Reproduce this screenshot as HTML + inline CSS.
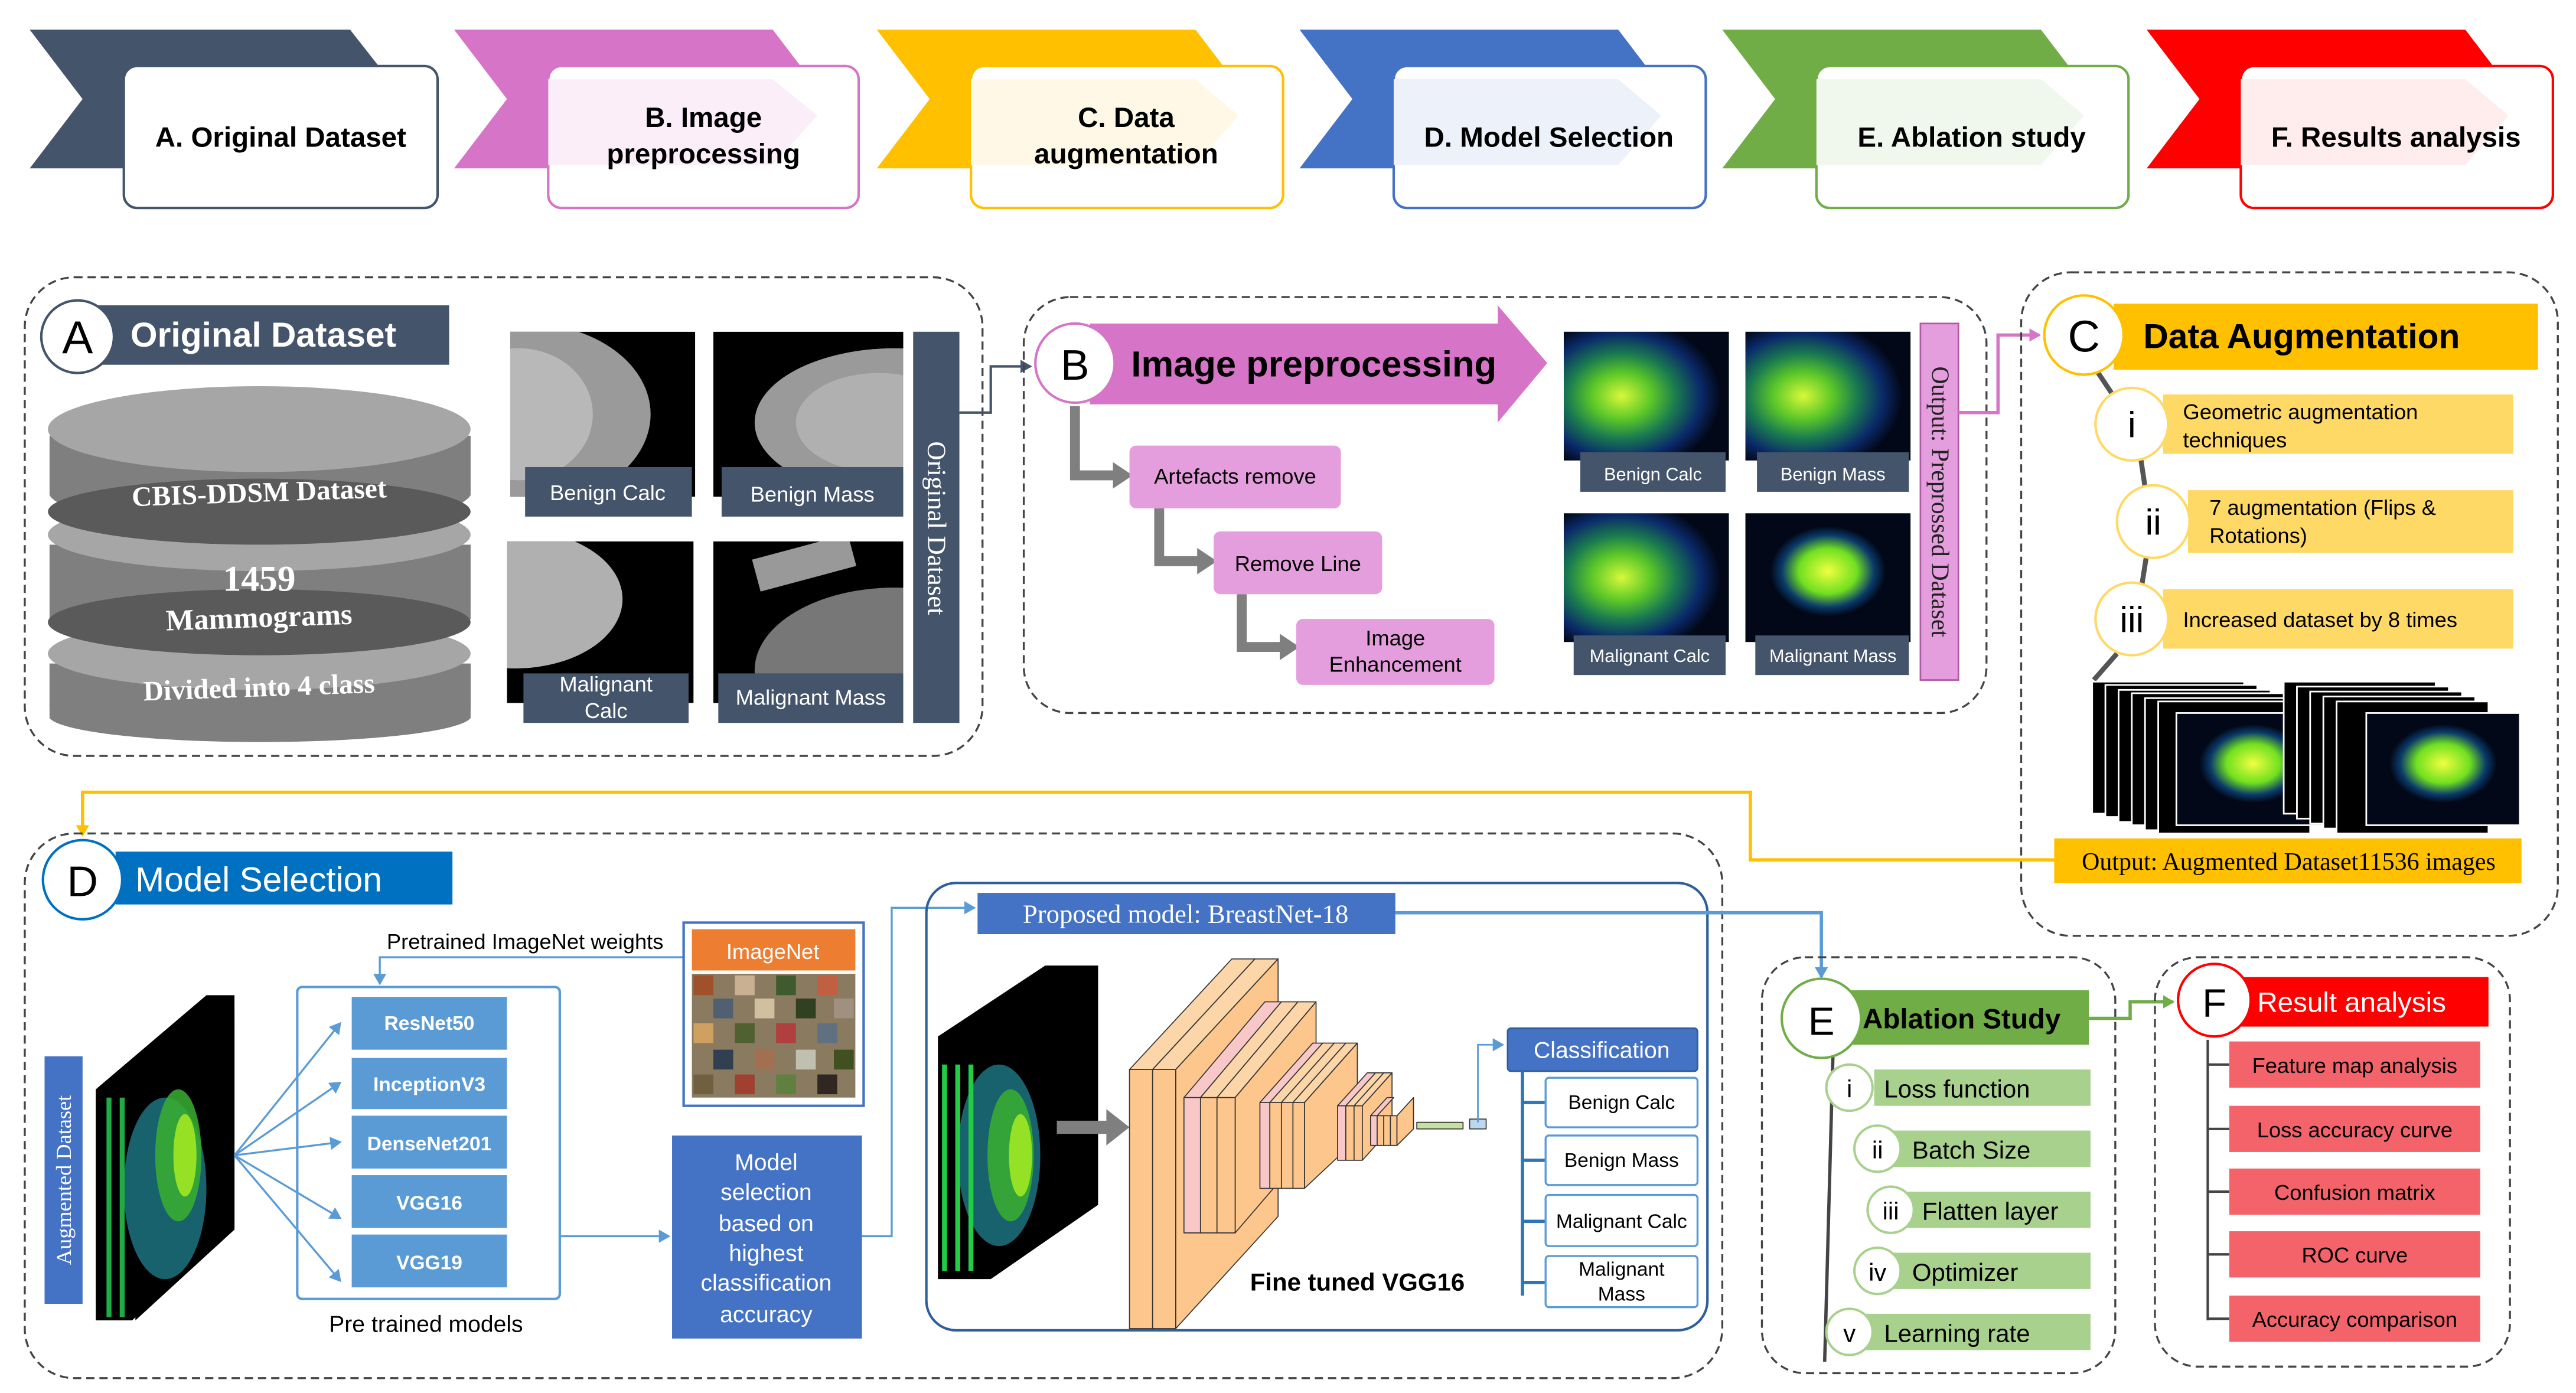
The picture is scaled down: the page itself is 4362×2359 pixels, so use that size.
<!DOCTYPE html>
<html><head><meta charset="utf-8"><style>
html,body{margin:0;padding:0;background:#fff}
svg{display:block}
text{font-family:"Liberation Sans",sans-serif}
.serif{font-family:"Liberation Serif",serif}
</style></head><body>
<svg width="4362" height="2359" viewBox="0 0 1560 844" preserveAspectRatio="none" xmlns="http://www.w3.org/2000/svg">
<defs>
<radialGradient id="heat" cx="0.35" cy="0.5" r="0.6">
<stop offset="0" stop-color="#d8f83a"/><stop offset="0.3" stop-color="#5cc828"/><stop offset="0.55" stop-color="#1a7a50"/><stop offset="0.8" stop-color="#0a2a6a"/><stop offset="1" stop-color="#020818"/>
</radialGradient>
<radialGradient id="heat2" cx="0.5" cy="0.45" r="0.35">
<stop offset="0" stop-color="#f0ff40"/><stop offset="0.5" stop-color="#70e020"/><stop offset="0.8" stop-color="#0a3a6a"/><stop offset="1" stop-color="#020818"/>
</radialGradient>
<radialGradient id="mam" cx="0.2" cy="0.5" r="0.7">
<stop offset="0" stop-color="#d8d8d8"/><stop offset="0.5" stop-color="#9a9a9a"/><stop offset="0.7" stop-color="#222"/><stop offset="1" stop-color="#000"/>
</radialGradient>
<marker id="ab" markerWidth="8" markerHeight="8" refX="6" refY="4" orient="auto" markerUnits="userSpaceOnUse"><path d="M0,0 L7,4 L0,8z" fill="#5b9bd5"/></marker>
<marker id="ap" markerWidth="8" markerHeight="8" refX="6" refY="4" orient="auto" markerUnits="userSpaceOnUse"><path d="M0,0 L7,4 L0,8z" fill="#d674c8"/></marker>
<marker id="ay" markerWidth="8" markerHeight="8" refX="6" refY="4" orient="auto" markerUnits="userSpaceOnUse"><path d="M0,0 L7,4 L0,8z" fill="#ffc000"/></marker>
<marker id="ag" markerWidth="8" markerHeight="8" refX="6" refY="4" orient="auto" markerUnits="userSpaceOnUse"><path d="M0,0 L7,4 L0,8z" fill="#70ad47"/></marker>
<marker id="ad" markerWidth="8" markerHeight="8" refX="6" refY="4" orient="auto" markerUnits="userSpaceOnUse"><path d="M0,0 L7,4 L0,8z" fill="#44546a"/></marker>
</defs>

<!-- TOP BANNER -->
<g>
<polygon points="18,18 212,18 245,60 212,102 18,102 50,60" fill="#44546a"/>
<rect x="75" y="40" width="190" height="86" rx="8" fill="#fff" stroke="#44546a" stroke-width="1.5"/>
<text x="170" y="89" font-size="17" font-weight="bold" text-anchor="middle">A. Original Dataset</text>

<polygon points="275,18 468,18 500,60 468,102 275,102 307,60" fill="#d674c8"/>
<rect x="332" y="40" width="188" height="86" rx="8" fill="#fff" stroke="#d674c8" stroke-width="1.5"/>
<polygon points="332,48 468,48 495,70 468,100 332,100" fill="#fbeef9"/>
<text x="426" y="77" font-size="17" font-weight="bold" text-anchor="middle">B. Image</text>
<text x="426" y="99" font-size="17" font-weight="bold" text-anchor="middle">preprocessing</text>

<polygon points="531,18 724,18 756,60 724,102 531,102 563,60" fill="#ffc000"/>
<rect x="588" y="40" width="189" height="86" rx="8" fill="#fff" stroke="#ffc000" stroke-width="1.5"/>
<polygon points="588,48 724,48 750,70 724,100 588,100" fill="#fff8e6"/>
<text x="682" y="77" font-size="17" font-weight="bold" text-anchor="middle">C. Data</text>
<text x="682" y="99" font-size="17" font-weight="bold" text-anchor="middle">augmentation</text>

<polygon points="787,18 980,18 1012,60 980,102 787,102 819,60" fill="#4472c4"/>
<rect x="844" y="40" width="189" height="86" rx="8" fill="#fff" stroke="#4472c4" stroke-width="1.5"/>
<polygon points="844,48 980,48 1006,70 980,100 844,100" fill="#edf1f9"/>
<text x="938" y="89" font-size="17" font-weight="bold" text-anchor="middle">D. Model Selection</text>

<polygon points="1043,18 1236,18 1268,60 1236,102 1043,102 1075,60" fill="#70ad47"/>
<rect x="1100" y="40" width="189" height="86" rx="8" fill="#fff" stroke="#70ad47" stroke-width="1.5"/>
<polygon points="1100,48 1236,48 1262,70 1236,100 1100,100" fill="#f0f7ec"/>
<text x="1194" y="89" font-size="17" font-weight="bold" text-anchor="middle">E. Ablation study</text>

<polygon points="1300,18 1493,18 1525,60 1493,102 1300,102 1332,60" fill="#ff0000"/>
<rect x="1357" y="40" width="189" height="86" rx="8" fill="#fff" stroke="#ff0000" stroke-width="1.5"/>
<polygon points="1357,48 1493,48 1519,70 1493,100 1357,100" fill="#ffecec"/>
<text x="1451" y="89" font-size="17" font-weight="bold" text-anchor="middle">F. Results analysis</text>
</g>

<!-- SECTION A -->
<rect x="15" y="168" width="580" height="290" rx="30" fill="none" stroke="#444" stroke-dasharray="5,3" stroke-width="1.2"/>
<rect x="55" y="185" width="217" height="36" fill="#44546a"/>
<circle cx="47" cy="204" r="22" fill="#fff" stroke="#44546a" stroke-width="1.5"/>
<text x="47" y="214" font-size="28" text-anchor="middle">A</text>
<text x="79" y="210" font-size="21" font-weight="bold" fill="#fff">Original Dataset</text>
<!-- cylinder -->
<g>
<path d="M30,402 L30,435 A128,16 0 0 0 285,435 L285,402z" fill="#7f7f7f"/>
<ellipse cx="157" cy="396" rx="128" ry="22" fill="#a6a6a6"/>
<path d="M30,330 L30,375 A128,22 0 0 0 285,375 L285,330z" fill="#7f7f7f"/>
<ellipse cx="157" cy="377" rx="128" ry="20" fill="#5a5a5a"/>
<ellipse cx="157" cy="324" rx="128" ry="22" fill="#a6a6a6"/>
<path d="M30,264 L30,300 A128,22 0 0 0 285,300 L285,264z" fill="#7f7f7f"/>
<ellipse cx="157" cy="310" rx="128" ry="20" fill="#5a5a5a"/>
<ellipse cx="157" cy="260" rx="128" ry="26" fill="#a6a6a6"/>
<path d="M30,402 L30,430 A128,18 0 0 0 285,430 L285,402 A128,20 0 0 1 30,402z" fill="#7f7f7f"/>
<text x="157" y="304" class="serif" font-size="17" font-weight="bold" fill="#fff" text-anchor="middle" transform="rotate(-2 157 300)">CBIS-DDSM Dataset</text>
<text x="157" y="358" class="serif" font-size="22" font-weight="bold" fill="#fff" text-anchor="middle">1459</text>
<text x="157" y="380" class="serif" font-size="18" font-weight="bold" fill="#fff" text-anchor="middle" transform="rotate(-2 157 378)">Mammograms</text>
<text x="157" y="422" class="serif" font-size="17" font-weight="bold" fill="#fff" text-anchor="middle" transform="rotate(-2 157 420)">Divided into 4 class</text>
</g>
<!-- mammograms (clipped) -->
<svg x="309" y="201" width="112" height="100"><rect width="112" height="100" fill="#000"/><ellipse cx="10" cy="50" rx="75" ry="55" fill="#9a9a9a"/><ellipse cx="5" cy="50" rx="45" ry="40" fill="#b8b8b8"/></svg>
<svg x="432" y="201" width="115" height="100"><rect width="115" height="100" fill="#000"/><ellipse cx="110" cy="55" rx="85" ry="45" fill="#9a9a9a"/><ellipse cx="100" cy="55" rx="50" ry="30" fill="#b0b0b0"/></svg>
<svg x="307" y="328" width="113" height="98"><rect width="113" height="98" fill="#000"/><ellipse cx="5" cy="35" rx="65" ry="42" fill="#b0b0b0"/></svg>
<svg x="432" y="328" width="115" height="98"><rect width="115" height="98" fill="#000"/><ellipse cx="110" cy="78" rx="85" ry="50" fill="#777"/><rect x="25" y="3" width="60" height="20" fill="#999" transform="rotate(-15 55 13)"/></svg>
<rect x="318" y="283" width="101" height="30" fill="#44546a"/><text x="368" y="303" font-size="13" fill="#fff" text-anchor="middle">Benign Calc</text>
<rect x="437" y="283" width="110" height="30" fill="#44546a"/><text x="492" y="304" font-size="13" fill="#fff" text-anchor="middle">Benign Mass</text>
<rect x="317" y="408" width="100" height="30" fill="#44546a"/><text x="367" y="419" font-size="13" fill="#fff" text-anchor="middle">Malignant</text><text x="367" y="435" font-size="13" fill="#fff" text-anchor="middle">Calc</text>
<rect x="435" y="408" width="112" height="30" fill="#44546a"/><text x="491" y="427" font-size="13" fill="#fff" text-anchor="middle">Malignant Mass</text>
<rect x="553" y="201" width="28" height="237" fill="#44546a"/>
<text x="0" y="0" class="serif" font-size="16" fill="#fff" text-anchor="middle" transform="translate(562 320) rotate(90)">Original Dataset</text>
<polyline points="581,250 600,250 600,222 624,222" fill="none" stroke="#44546a" stroke-width="1.5" marker-end="url(#ad)"/>

<!-- SECTION B -->
<rect x="620" y="180" width="583" height="252" rx="28" fill="none" stroke="#444" stroke-dasharray="5,3" stroke-width="1.2"/>
<polygon points="660,196 907,196 907,185 937,220 907,256 907,245 660,245" fill="#d674c8"/>
<circle cx="651" cy="220" r="24" fill="#fff" stroke="#d674c8" stroke-width="1.5"/>
<text x="651" y="230" font-size="26" text-anchor="middle">B</text>
<text x="685" y="228" font-size="22" font-weight="bold">Image preprocessing</text>
<g fill="none" stroke="#7f7f7f" stroke-width="6">
<polyline points="651,246 651,288 676,288"/>
<polyline points="702,308 702,340 727,340"/>
<polyline points="752,360 752,392 777,392"/>
</g>
<g fill="#7f7f7f"><polygon points="674,280 686,288 674,296"/><polygon points="725,332 737,340 725,348"/><polygon points="775,384 787,392 775,400"/></g>
<rect x="684" y="270" width="128" height="38" rx="4" fill="#e59edd"/><text x="748" y="293" font-size="13" text-anchor="middle">Artefacts remove</text>
<rect x="735" y="322" width="102" height="38" rx="4" fill="#e59edd"/><text x="786" y="346" font-size="13" text-anchor="middle">Remove Line</text>
<rect x="785" y="375" width="120" height="40" rx="4" fill="#e59edd"/><text x="845" y="391" font-size="13" text-anchor="middle">Image</text><text x="845" y="407" font-size="13" text-anchor="middle">Enhancement</text>
<rect x="947" y="201" width="100" height="78" fill="url(#heat)"/>
<rect x="1057" y="201" width="100" height="78" fill="url(#heat)"/>
<rect x="947" y="311" width="100" height="78" fill="url(#heat)"/>
<rect x="1057" y="311" width="100" height="78" fill="url(#heat2)"/>
<rect x="957" y="274" width="88" height="24" fill="#44546a"/><text x="1001" y="291" font-size="11" fill="#fff" text-anchor="middle">Benign Calc</text>
<rect x="1064" y="274" width="92" height="24" fill="#44546a"/><text x="1110" y="291" font-size="11" fill="#fff" text-anchor="middle">Benign Mass</text>
<rect x="953" y="385" width="92" height="24" fill="#44546a"/><text x="999" y="401" font-size="11" fill="#fff" text-anchor="middle">Malignant Calc</text>
<rect x="1063" y="385" width="93" height="24" fill="#44546a"/><text x="1110" y="401" font-size="11" fill="#fff" text-anchor="middle">Malignant Mass</text>
<rect x="1163" y="196" width="23" height="216" fill="#e59edd" stroke="#b05aa8" stroke-width="1"/>
<text class="serif" font-size="15" fill="#222" text-anchor="middle" transform="translate(1170 304) rotate(90)">Output: Preprossed Dataset</text>
<polyline points="1186,250 1210,250 1210,203 1235,203" fill="none" stroke="#d674c8" stroke-width="2" marker-end="url(#ap)"/>

<!-- SECTION C -->
<rect x="1224" y="165" width="325" height="402" rx="30" fill="none" stroke="#444" stroke-dasharray="5,3" stroke-width="1.2"/>
<rect x="1280" y="184" width="257" height="40" fill="#ffc000"/>
<line x1="1270" y1="225" x2="1280" y2="240" stroke="#555" stroke-width="3"/>
<line x1="1296" y1="275" x2="1299" y2="295" stroke="#555" stroke-width="3"/>
<line x1="1300" y1="336" x2="1297" y2="355" stroke="#555" stroke-width="3"/>
<line x1="1282" y1="396" x2="1268" y2="412" stroke="#555" stroke-width="3"/>
<circle cx="1262" cy="203" r="24" fill="#fff" stroke="#ffc000" stroke-width="1.5"/>
<text x="1262" y="213" font-size="27" text-anchor="middle">C</text>
<text x="1298" y="211" font-size="21" font-weight="bold">Data Augmentation</text>
<rect x="1310" y="239" width="212" height="36" fill="#ffd966"/>
<rect x="1325" y="297" width="197" height="38" fill="#ffd966"/>
<rect x="1310" y="357" width="212" height="36" fill="#ffd966"/>
<circle cx="1291" cy="257" r="22" fill="#fff" stroke="#ffd966" stroke-width="1.5"/><text x="1291" y="265" font-size="22" text-anchor="middle">i</text>
<circle cx="1304" cy="316" r="22" fill="#fff" stroke="#ffd966" stroke-width="1.5"/><text x="1304" y="324" font-size="22" text-anchor="middle">ii</text>
<circle cx="1291" cy="375" r="22" fill="#fff" stroke="#ffd966" stroke-width="1.5"/><text x="1291" y="383" font-size="22" text-anchor="middle">iii</text>
<text x="1322" y="254" font-size="13">Geometric augmentation</text><text x="1322" y="271" font-size="13">techniques</text>
<text x="1338" y="312" font-size="13">7 augmentation (Flips &amp;</text><text x="1338" y="329" font-size="13">Rotations)</text>
<text x="1322" y="380" font-size="13">Increased dataset by 8 times</text>
<g>
<rect x="1267" y="413" width="92" height="80" fill="#000" stroke="#fff" stroke-width="1"/>
<rect x="1275" y="415" width="92" height="80" fill="#000" stroke="#fff" stroke-width="1"/>
<rect x="1283" y="418" width="92" height="80" fill="#000" stroke="#fff" stroke-width="1"/>
<rect x="1291" y="420" width="92" height="80" fill="#000" stroke="#fff" stroke-width="1"/>
<rect x="1299" y="423" width="92" height="80" fill="#000" stroke="#fff" stroke-width="1"/>
<rect x="1307" y="425" width="92" height="80" fill="#000" stroke="#fff" stroke-width="1"/>
<rect x="1318" y="432" width="93" height="68" fill="url(#heat2)" stroke="#fff" stroke-width="1"/>
<rect x="1383" y="413" width="92" height="80" fill="#000" stroke="#fff" stroke-width="1"/>
<rect x="1391" y="416" width="92" height="80" fill="#000" stroke="#fff" stroke-width="1"/>
<rect x="1399" y="419" width="92" height="80" fill="#000" stroke="#fff" stroke-width="1"/>
<rect x="1407" y="422" width="92" height="80" fill="#000" stroke="#fff" stroke-width="1"/>
<rect x="1415" y="425" width="92" height="80" fill="#000" stroke="#fff" stroke-width="1"/>
<rect x="1433" y="432" width="93" height="68" fill="url(#heat2)" stroke="#fff" stroke-width="1"/>
</g>
<rect x="1244" y="508" width="283" height="27" fill="#ffc000"/>
<text x="1386" y="527" class="serif" font-size="15" text-anchor="middle">Output: Augmented Dataset11536 images</text>
<polyline points="1244,521 1060,521 1060,480 50,480 50,506" fill="none" stroke="#ffc000" stroke-width="2" marker-end="url(#ay)"/>

<!-- SECTION D -->
<rect x="15" y="505" width="1028" height="330" rx="30" fill="none" stroke="#444" stroke-dasharray="5,3" stroke-width="1.2"/>
<rect x="70" y="516" width="204" height="32" fill="#0070c0"/>
<circle cx="50" cy="533" r="24" fill="#fff" stroke="#0070c0" stroke-width="1.5"/>
<text x="50" y="543" font-size="26" text-anchor="middle">D</text>
<text x="82" y="540" font-size="21" fill="#fff">Model Selection</text>
<rect x="27" y="640" width="23" height="150" fill="#4472c4"/>
<text class="serif" font-size="13" fill="#fff" text-anchor="middle" transform="translate(43 715) rotate(-90)">Augmented Dataset</text>
<g>
<polygon points="58,660 125,603 142,603 142,745 80,800 58,800" fill="#000"/>
<polygon points="82,665 142,612 142,745 82,800" fill="#000"/>
<ellipse cx="100" cy="720" rx="25" ry="55" fill="#1e7a8a" opacity="0.8"/>
<ellipse cx="108" cy="700" rx="14" ry="40" fill="#3ab030" opacity="0.85"/>
<ellipse cx="112" cy="700" rx="7" ry="25" fill="#b0f020" opacity="0.8"/>
<line x1="66" y1="665" x2="66" y2="798" stroke="#22aa44" stroke-width="3"/>
<line x1="74" y1="665" x2="74" y2="798" stroke="#22aa44" stroke-width="3"/>
</g>
<g stroke="#5b9bd5" stroke-width="1.2" fill="none">
<line x1="142" y1="700" x2="206" y2="620" marker-end="url(#ab)"/>
<line x1="142" y1="700" x2="206" y2="656" marker-end="url(#ab)"/>
<line x1="142" y1="700" x2="206" y2="692" marker-end="url(#ab)"/>
<line x1="142" y1="700" x2="206" y2="738" marker-end="url(#ab)"/>
<line x1="142" y1="700" x2="206" y2="776" marker-end="url(#ab)"/>
</g>
<rect x="180" y="598" width="159" height="189" rx="3" fill="none" stroke="#5b9bd5" stroke-width="1.5"/>
<g fill="#5b9bd5">
<rect x="213" y="604" width="94" height="32"/><rect x="213" y="641" width="94" height="31"/><rect x="213" y="676" width="94" height="32"/><rect x="213" y="712" width="94" height="32"/><rect x="213" y="748" width="94" height="32"/>
</g>
<g font-size="12" font-weight="bold" fill="#fff" text-anchor="middle">
<text x="260" y="624">ResNet50</text><text x="260" y="661">InceptionV3</text><text x="260" y="697">DenseNet201</text><text x="260" y="733">VGG16</text><text x="260" y="769">VGG19</text>
</g>
<text x="258" y="807" font-size="14" text-anchor="middle">Pre trained models</text>
<text x="318" y="575" font-size="13" text-anchor="middle">Pretrained ImageNet weights</text>
<polyline points="414,580 230,580 230,596" fill="none" stroke="#5b9bd5" stroke-width="1.2" marker-end="url(#ab)"/>
<rect x="414" y="559" width="109" height="111" fill="#fff" stroke="#4472c4" stroke-width="1.5"/>
<rect x="419" y="563" width="99" height="25" fill="#ed7d31"/>
<text x="468" y="581" font-size="13" fill="#fff" text-anchor="middle">ImageNet</text>
<g>
<rect x="419" y="590" width="99" height="75" fill="#8a7a60"/>
<rect x="420" y="591" width="12" height="12" fill="#a0502a"/><rect x="445" y="591" width="12" height="12" fill="#c8b090"/><rect x="470" y="591" width="12" height="12" fill="#405a30"/><rect x="495" y="591" width="12" height="12" fill="#c06040"/>
<rect x="432" y="605" width="12" height="12" fill="#506070"/><rect x="457" y="605" width="12" height="12" fill="#d0c0a0"/><rect x="482" y="605" width="12" height="12" fill="#304020"/><rect x="505" y="605" width="12" height="12" fill="#a09080"/>
<rect x="420" y="620" width="12" height="12" fill="#d0a060"/><rect x="445" y="620" width="12" height="12" fill="#506030"/><rect x="470" y="620" width="12" height="12" fill="#b04040"/><rect x="495" y="620" width="12" height="12" fill="#607080"/>
<rect x="432" y="636" width="12" height="12" fill="#304050"/><rect x="457" y="636" width="12" height="12" fill="#a07050"/><rect x="482" y="636" width="12" height="12" fill="#c0c0b0"/><rect x="505" y="636" width="12" height="12" fill="#405020"/>
<rect x="420" y="651" width="12" height="12" fill="#706040"/><rect x="445" y="651" width="12" height="12" fill="#a04030"/><rect x="470" y="651" width="12" height="12" fill="#608040"/><rect x="495" y="651" width="12" height="12" fill="#302820"/>
</g>
<line x1="339" y1="749" x2="405" y2="749" stroke="#5b9bd5" stroke-width="1.2" marker-end="url(#ab)"/>
<rect x="407" y="688" width="115" height="123" fill="#4472c4"/>
<g font-size="14" fill="#fff" text-anchor="middle">
<text x="464" y="709">Model</text><text x="464" y="727">selection</text><text x="464" y="746">based on</text><text x="464" y="764">highest</text><text x="464" y="782">classification</text><text x="464" y="801">accuracy</text>
</g>
<polyline points="522,749 540,749 540,550 590,550" fill="none" stroke="#5b9bd5" stroke-width="1.2" marker-end="url(#ab)"/>
<rect x="561" y="535" width="473" height="271" rx="18" fill="none" stroke="#2e5f9a" stroke-width="1.5"/>
<rect x="592" y="541" width="253" height="25" fill="#4472c4"/>
<text x="718" y="559" class="serif" font-size="16" fill="#fff" text-anchor="middle">Proposed model: BreastNet-18</text>
<polyline points="845,553 1103,553 1103,592" fill="none" stroke="#5b9bd5" stroke-width="2" marker-end="url(#ab)"/>
<!-- input stack -->
<g>
<polygon points="568,628 633,585 665,585 665,730 600,775 568,775" fill="#000"/>
<ellipse cx="605" cy="700" rx="25" ry="55" fill="#1e7a8a" opacity="0.8"/>
<ellipse cx="612" cy="700" rx="14" ry="40" fill="#3ab030" opacity="0.85"/>
<ellipse cx="618" cy="700" rx="7" ry="25" fill="#aef020" opacity="0.8"/>
<line x1="572" y1="645" x2="572" y2="770" stroke="#22cc44" stroke-width="3"/>
<line x1="580" y1="645" x2="580" y2="770" stroke="#22cc44" stroke-width="3"/>
<line x1="588" y1="645" x2="588" y2="770" stroke="#22cc44" stroke-width="3"/>
</g>
<polygon points="640,679 670,679 670,672 684,683 670,694 670,687 640,687" fill="#7f7f7f"/>
<!-- VGG blocks -->
<g stroke="#333" stroke-width="0.6" stroke-linejoin="round">
<polygon points="684,648 746,581 760,581 698,648" fill="#fcd5a8"/><polygon points="698,648 760,581 760,737 698,805" fill="#fcc68c"/><rect x="684" y="648" width="14" height="157" fill="#fcc68c"/>
<polygon points="698,648 760,581 774,581 712,648" fill="#fcd5a8"/><polygon points="712,648 774,581 774,737 712,805" fill="#fcc68c"/><rect x="698" y="648" width="14" height="157" fill="#fcc68c"/>
<polygon points="717,665 766,607 776,607 727,665" fill="#f8c8c8"/><rect x="717" y="665" width="10" height="82" fill="#f8c8c8"/>
<polygon points="727,665 776,607 786,607 737,665" fill="#fcd5a8"/><rect x="727" y="665" width="10" height="82" fill="#fcc68c"/>
<polygon points="737,665 786,607 797,607 748,665" fill="#fcd5a8"/><polygon points="748,665 797,607 797,690 748,747" fill="#fcc68c"/><rect x="737" y="665" width="11" height="82" fill="#fcc68c"/>
<polygon points="763,668 795,632 801,632 769,668" fill="#f8c8c8"/><rect x="763" y="668" width="6" height="52" fill="#f8c8c8"/>
<polygon points="769,668 801,632 808,632 776,668" fill="#fcd5a8"/><rect x="769" y="668" width="7" height="52" fill="#fcc68c"/>
<polygon points="776,668 808,632 815,632 783,668" fill="#fcd5a8"/><rect x="776" y="668" width="7" height="52" fill="#fcc68c"/>
<polygon points="783,668 815,632 822,632 790,668" fill="#fcd5a8"/><polygon points="790,668 822,632 822,690 790,720" fill="#fcc68c"/><rect x="783" y="668" width="7" height="52" fill="#fcc68c"/>
<polygon points="810,670 828,650 833,650 815,670" fill="#f8c8c8"/><rect x="810" y="670" width="5" height="33" fill="#f8c8c8"/>
<polygon points="815,670 833,650 838,650 820,670" fill="#fcd5a8"/><rect x="815" y="670" width="5" height="33" fill="#fcc68c"/>
<polygon points="820,670 838,650 843,650 825,670" fill="#fcd5a8"/><rect x="820" y="670" width="5" height="33" fill="#fcc68c"/>
<polygon points="825,670 843,650 843,683 825,703" fill="#fcc68c"/>
<polygon points="830,676 840,665 844,665 834,676" fill="#f8c8c8"/><rect x="830" y="676" width="4" height="18" fill="#f8c8c8"/>
<rect x="834" y="676" width="4" height="18" fill="#fcc68c"/><rect x="838" y="676" width="4" height="18" fill="#fcc68c"/><rect x="842" y="676" width="4" height="18" fill="#fcc68c"/>
<polygon points="846,676 856,665 856,684 846,694" fill="#fcc68c"/>
<rect x="858" y="680" width="28" height="4" fill="#c5e0a0"/>
<rect x="890" y="678" width="10" height="6" fill="#bdd7ee"/>
</g>
<polyline points="895,680 895,633 910,633" fill="none" stroke="#5b9bd5" stroke-width="1" marker-end="url(#ab)"/>
<rect x="913" y="623" width="115" height="26" rx="2" fill="#4472c4" stroke="#2e5f9a"/>
<text x="970" y="641" font-size="14" fill="#fff" text-anchor="middle">Classification</text>
<polyline points="922,649 922,785" fill="none" stroke="#2e75b6" stroke-width="2"/>
<g stroke="#2e75b6" stroke-width="2"><line x1="922" y1="668" x2="936" y2="668"/><line x1="922" y1="703" x2="936" y2="703"/><line x1="922" y1="740" x2="936" y2="740"/><line x1="922" y1="777" x2="936" y2="777"/></g>
<g fill="#fff" stroke="#5b9bd5" stroke-width="1.2">
<rect x="936" y="653" width="92" height="30" rx="2"/><rect x="936" y="688" width="92" height="30" rx="2"/><rect x="936" y="724" width="92" height="31" rx="2"/><rect x="936" y="761" width="92" height="31" rx="2"/>
</g>
<g font-size="12" text-anchor="middle">
<text x="982" y="672">Benign Calc</text><text x="982" y="707">Benign Mass</text><text x="982" y="744">Malignant Calc</text><text x="982" y="773">Malignant</text><text x="982" y="788">Mass</text>
</g>
<text x="822" y="782" font-size="15" font-weight="bold" text-anchor="middle">Fine tuned VGG16</text>

<!-- SECTION E -->
<rect x="1067" y="580" width="214" height="252" rx="26" fill="none" stroke="#444" stroke-dasharray="5,3" stroke-width="1.2"/>
<rect x="1120" y="600" width="145" height="33" fill="#70ad47"/>
<line x1="1110" y1="640" x2="1105" y2="825" stroke="#444" stroke-width="2"/>
<circle cx="1103" cy="617" r="24" fill="#fff" stroke="#70ad47" stroke-width="1.5"/>
<text x="1103" y="627" font-size="24" text-anchor="middle">E</text>
<text x="1128" y="623" font-size="17" font-weight="bold">Ablation Study</text>
<g fill="#a9d18e">
<rect x="1135" y="648" width="131" height="22"/><rect x="1145" y="685" width="121" height="22"/><rect x="1150" y="722" width="116" height="22"/><rect x="1145" y="759" width="121" height="22"/><rect x="1130" y="796" width="136" height="22"/>
</g>
<g fill="#fff" stroke="#a9d18e" stroke-width="1.5">
<circle cx="1120" cy="659" r="14"/><circle cx="1137" cy="696" r="14"/><circle cx="1145" cy="733" r="14"/><circle cx="1137" cy="770" r="14"/><circle cx="1120" cy="807" r="14"/>
</g>
<g font-size="15" text-anchor="middle"><text x="1120" y="665">i</text><text x="1137" y="702">ii</text><text x="1145" y="739">iii</text><text x="1137" y="776">iv</text><text x="1120" y="813">v</text></g>
<g font-size="15"><text x="1141" y="665">Loss function</text><text x="1158" y="702">Batch Size</text><text x="1164" y="739">Flatten layer</text><text x="1158" y="776">Optimizer</text><text x="1141" y="813">Learning rate</text></g>
<polyline points="1265,617 1290,617 1290,607 1316,607" fill="none" stroke="#70ad47" stroke-width="2" marker-end="url(#ag)"/>

<!-- SECTION F -->
<rect x="1305" y="580" width="215" height="248" rx="26" fill="none" stroke="#444" stroke-dasharray="5,3" stroke-width="1.2"/>
<rect x="1355" y="592" width="152" height="30" fill="#ff0000"/>
<line x1="1337" y1="630" x2="1337" y2="800" stroke="#444" stroke-width="1.5"/>
<g stroke="#444" stroke-width="1.5"><line x1="1337" y1="645" x2="1350" y2="645"/><line x1="1337" y1="684" x2="1350" y2="684"/><line x1="1337" y1="722" x2="1350" y2="722"/><line x1="1337" y1="760" x2="1350" y2="760"/><line x1="1337" y1="799" x2="1350" y2="799"/></g>
<circle cx="1341" cy="606" r="22" fill="#fff" stroke="#ff0000" stroke-width="1.5"/>
<text x="1341" y="616" font-size="24" text-anchor="middle">F</text>
<text x="1367" y="613" font-size="17" fill="#fff">Result analysis</text>
<g fill="#f4636a">
<rect x="1350" y="631" width="152" height="28"/><rect x="1350" y="670" width="152" height="28"/><rect x="1350" y="708" width="152" height="28"/><rect x="1350" y="746" width="152" height="28"/><rect x="1350" y="785" width="152" height="28"/>
</g>
<g font-size="13" text-anchor="middle">
<text x="1426" y="650">Feature map analysis</text><text x="1426" y="689">Loss accuracy curve</text><text x="1426" y="727">Confusion matrix</text><text x="1426" y="765">ROC curve</text><text x="1426" y="804">Accuracy comparison</text>
</g>
</svg>
</body></html>
